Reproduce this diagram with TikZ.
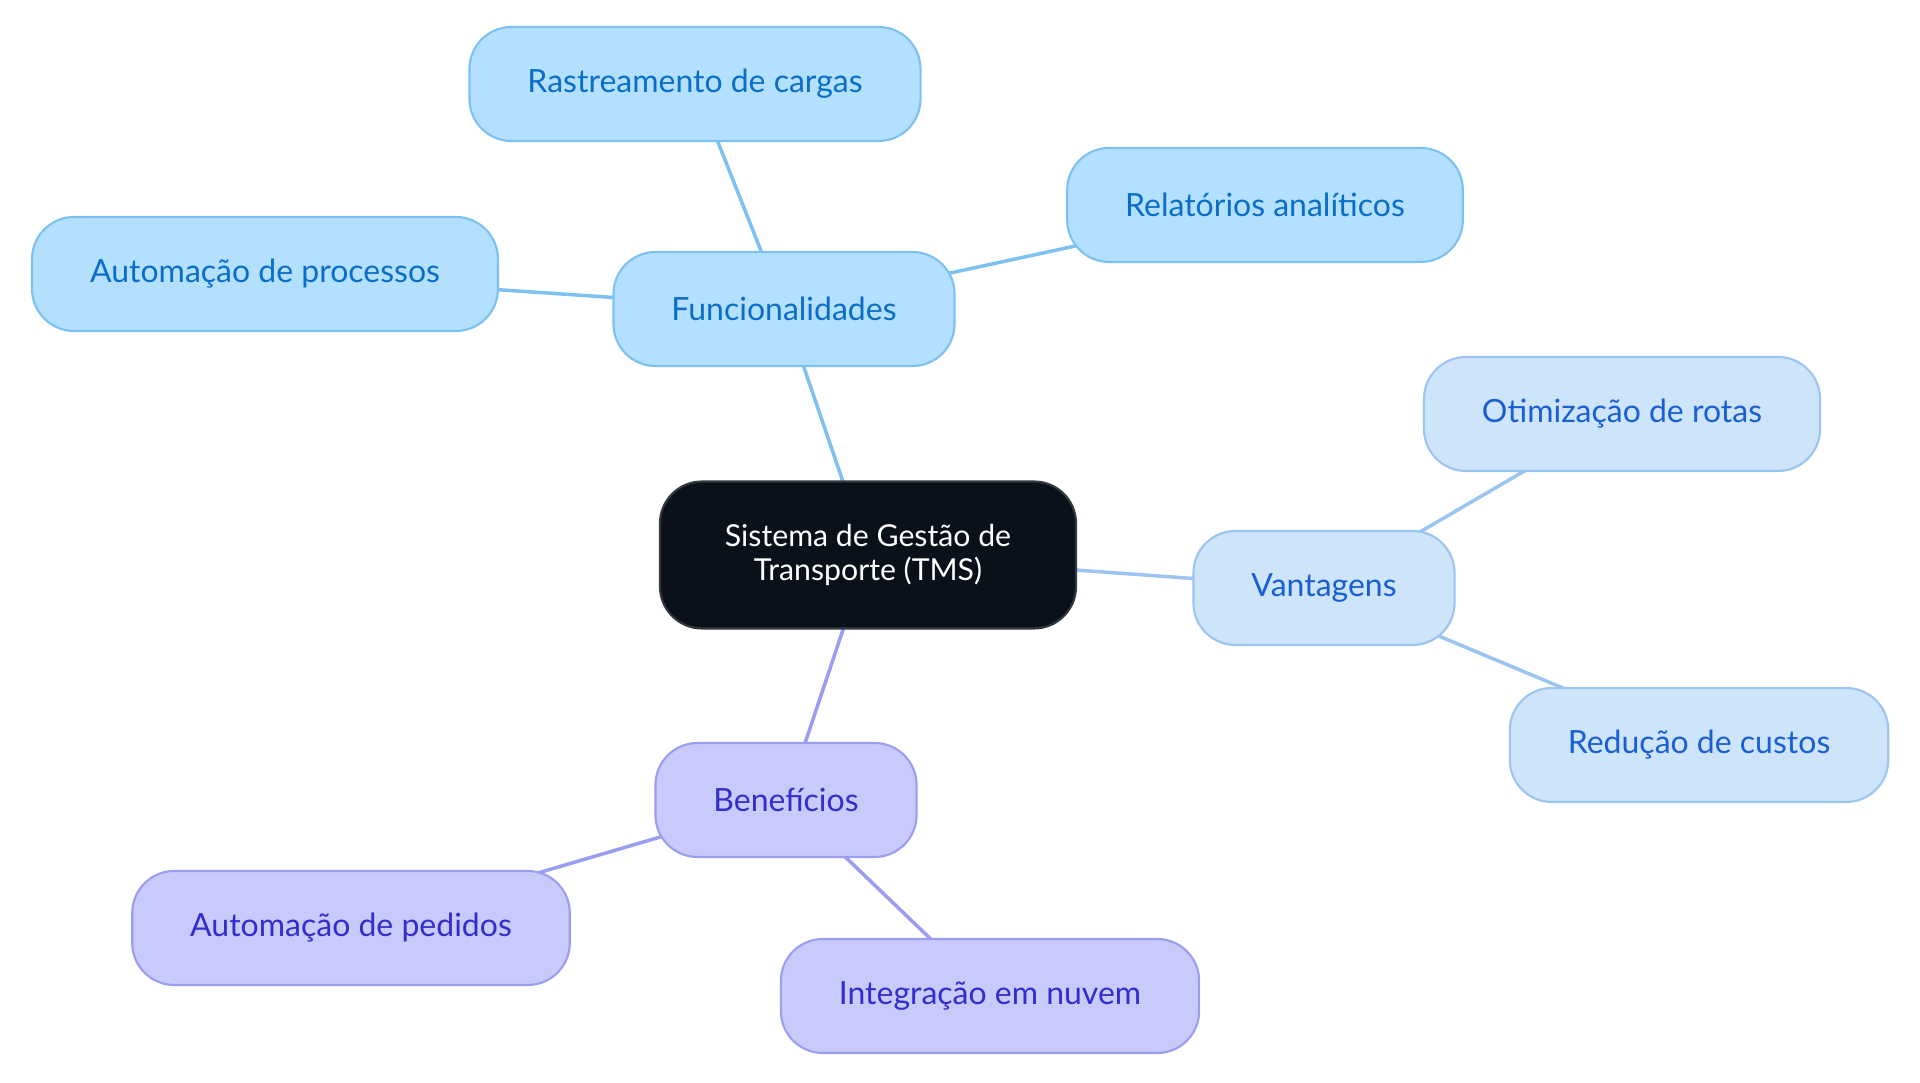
\documentclass[tikz,border=0pt]{standalone}
\usepackage{fontspec}
\setmainfont{Lato}
\usepackage{xcolor}
\definecolor{raiz}{RGB}{11,17,27}
\definecolor{raizBorde}{RGB}{52,57,64}
\definecolor{celeste}{RGB}{179,224,254}
\definecolor{celesteBorde}{RGB}{125,193,240}
\definecolor{celesteTexto}{RGB}{10,110,200}
\definecolor{cielo}{RGB}{205,228,250}
\definecolor{cieloBorde}{RGB}{155,197,240}
\definecolor{cieloTexto}{RGB}{25,95,210}
\definecolor{lavanda}{RGB}{200,202,252}
\definecolor{lavandaBorde}{RGB}{155,157,240}
\definecolor{lavandaTexto}{RGB}{50,45,205}
\usepackage{tikz}
\usetikzlibrary{shapes,calc,positioning,backgrounds}
\tikzstyle{edge}  =[line width=1pt]
\tikzstyle{raizbox}=[rectangle, draw=raizBorde, fill=raiz, text=white,
                    rounded corners=0.42cm, line width=0.6pt,
                    minimum height=1.47cm, inner xsep=0.65cm, align=center,
                    font=\fontsize{8.6pt}{9.7pt}\selectfont]
\tikzstyle{hoja}=[rectangle, rounded corners=0.42cm, line width=0.6pt,
                    minimum height=1.14cm, inner xsep=0.58cm,
                    font=\fontsize{9.1pt}{11pt}\selectfont]
\tikzstyle{fun}=[hoja, draw=celesteBorde, fill=celeste, text=celesteTexto]
\tikzstyle{van}=[hoja, draw=cieloBorde, fill=cielo, text=cieloTexto]
\tikzstyle{ben}=[hoja, draw=lavandaBorde, fill=lavanda, text=lavandaTexto]

\begin{document}
\begin{tikzpicture}
    \useasboundingbox (0,0) rectangle (19.2,10.83);

    \draw (8.68,5.28) node(tms)[raizbox]{Sistema de Gestão de\\Transporte (TMS)};

    \draw (7.84,7.74) node(fun)[fun]{Funcionalidades};
    \draw (6.95,9.99) node(ras)[fun]{Rastreamento de cargas};
    \draw (12.65,8.78) node(rel)[fun]{Relatórios analíticos};
    \draw (2.65,8.09) node(aut)[fun]{Automação de processos};

    \draw (13.24,4.95) node(van)[van]{Vantagens};
    \draw (16.22,6.69) node(oti)[van]{Otimização de rotas};
    \draw (16.99,3.38) node(red)[van]{Redução de custos};

    \draw (7.86,2.83) node(ben)[ben]{Benefícios};
    \draw (3.51,1.55) node(ped)[ben]{Automação de pedidos};
    \draw (9.90,0.87) node(int)[ben]{Integração em nuvem};

    \begin{scope}[on background layer]
        \foreach \i/\j in {tms/fun,fun/ras,fun/rel,fun/aut}
            \draw [edge,celesteBorde] (\i.center) to (\j.center);
        \foreach \i/\j in {tms/van,van/oti,van/red}
            \draw [edge,cieloBorde] (\i.center) to (\j.center);
        \foreach \i/\j in {tms/ben,ben/ped,ben/int}
            \draw [edge,lavandaBorde] (\i.center) to (\j.center);
    \end{scope}

\end{tikzpicture}
\end{document}
